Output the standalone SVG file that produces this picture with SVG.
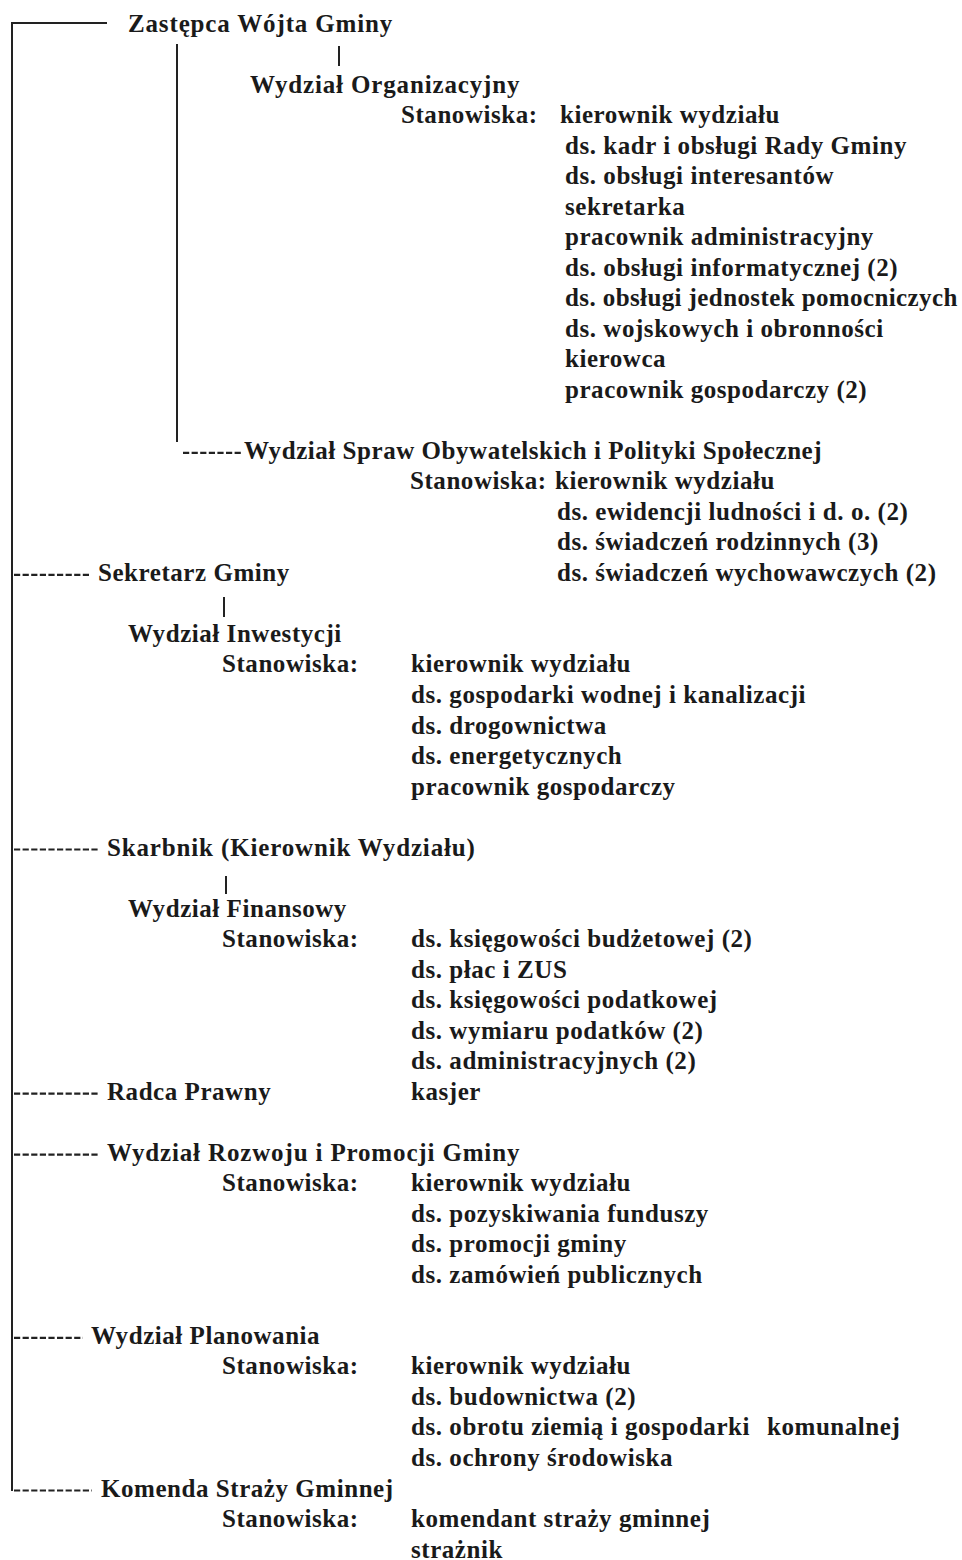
<svg xmlns="http://www.w3.org/2000/svg" width="962" height="1560" viewBox="0 0 962 1560">
<style>
text{font-family:"Liberation Serif","Times New Roman",serif;font-weight:bold;font-size:25px;letter-spacing:0.55px;fill:#1a1a1a}
.hd{letter-spacing:0.85px}
.tight{letter-spacing:0.4px}
.ln{stroke:#222;stroke-width:2;fill:none}
.dash{stroke:#222;stroke-width:2.2;fill:none;stroke-dasharray:6.2 2.4}
</style>
<rect width="962" height="1560" fill="#fff"/>
<g id="connectors">
<path class="ln" d="M12 23H107M12 22V1491"/>
<path class="ln" d="M177 44V442"/>
<path class="ln" d="M339 46V66"/>
<path class="ln" d="M224 597V617"/>
<path class="ln" d="M226 876V894"/>
<path class="dash" d="M183 452.8H243"/>
<path class="dash" d="M14 574.9H91"/>
<path class="dash" d="M14 849.5H98"/>
<path class="dash" d="M14 1093.7H98"/>
<path class="dash" d="M14 1154.7H98"/>
<path class="dash" d="M14 1337.9H83"/>
<path class="dash" d="M14 1490.5H92"/>
</g>
<g id="zastepca"><text class="hd" x="128" y="31.5">Zastępca Wójta Gminy</text></g>
<g id="wydzial-organizacyjny">
<text class="hd" x="250" y="92.5">Wydział Organizacyjny</text>
<text x="401" y="123.1">Stanowiska:</text>
<text x="560" y="123.1">kierownik wydziału</text>
<text x="565" y="153.6">ds. kadr i obsługi Rady Gminy</text>
<text x="565" y="184.1">ds. obsługi interesantów</text>
<text x="565" y="214.6">sekretarka</text>
<text x="565" y="245.1">pracownik administracyjny</text>
<text x="565" y="275.7">ds. obsługi informatycznej (2)</text>
<text x="565" y="306.2" class="tight">ds. obsługi jednostek pomocniczych</text>
<text x="565" y="336.7">ds. wojskowych i obronności</text>
<text x="565" y="367.2">kierowca</text>
<text x="565" y="397.7">pracownik gospodarczy (2)</text>
</g>
<g id="wydzial-spraw-obywatelskich">
<text x="244" y="458.8">Wydział Spraw Obywatelskich i Polityki Społecznej</text>
<text x="410" y="489.3">Stanowiska:</text>
<text x="555" y="489.3">kierownik wydziału</text>
<text x="557" y="519.8">ds. ewidencji ludności i d. o. (2)</text>
<text x="557" y="550.3">ds. świadczeń rodzinnych (3)</text>
<text x="557" y="580.9">ds. świadczeń wychowawczych (2)</text>
</g>
<g id="sekretarz"><text x="98" y="580.9">Sekretarz Gminy</text></g>
<g id="wydzial-inwestycji">
<text x="128" y="641.9">Wydział Inwestycji</text>
<text x="222" y="672.4">Stanowiska:</text>
<text x="411" y="672.4">kierownik wydziału</text>
<text x="411" y="702.9">ds. gospodarki wodnej i kanalizacji</text>
<text x="411" y="733.5">ds. drogownictwa</text>
<text x="411" y="764.0">ds. energetycznych</text>
<text x="411" y="794.5">pracownik gospodarczy</text>
</g>
<g id="skarbnik"><text class="hd" x="107" y="855.5">Skarbnik (Kierownik Wydziału)</text></g>
<g id="wydzial-finansowy">
<text x="128" y="916.6">Wydział Finansowy</text>
<text x="222" y="947.1">Stanowiska:</text>
<text x="411" y="947.1">ds. księgowości budżetowej (2)</text>
<text x="411" y="977.6">ds. płac i ZUS</text>
<text x="411" y="1008.1">ds. księgowości podatkowej</text>
<text x="411" y="1038.7">ds. wymiaru podatków (2)</text>
<text x="411" y="1069.2">ds. administracyjnych (2)</text>
<text x="411" y="1099.7">kasjer</text>
</g>
<g id="radca-prawny"><text x="107" y="1099.7">Radca Prawny</text></g>
<g id="wydzial-rozwoju">
<text class="hd" x="107" y="1160.7">Wydział Rozwoju i Promocji Gminy</text>
<text x="222" y="1191.3">Stanowiska:</text>
<text x="411" y="1191.3">kierownik wydziału</text>
<text x="411" y="1221.8">ds. pozyskiwania funduszy</text>
<text x="411" y="1252.3">ds. promocji gminy</text>
<text x="411" y="1282.8">ds. zamówień publicznych</text>
</g>
<g id="wydzial-planowania">
<text x="91" y="1343.9">Wydział Planowania</text>
<text x="222" y="1374.4">Stanowiska:</text>
<text x="411" y="1374.4">kierownik wydziału</text>
<text x="411" y="1404.9">ds. budownictwa (2)</text>
<text x="411" y="1435.4">ds. obrotu ziemią i gospodarki <tspan x="767">komunalnej</tspan></text>
<text x="411" y="1465.9">ds. ochrony środowiska</text>
</g>
<g id="komenda-strazy">
<text x="101" y="1496.5">Komenda Straży Gminnej</text>
<text x="222" y="1527.0">Stanowiska:</text>
<text x="411" y="1527.0">komendant straży gminnej</text>
<text x="411" y="1557.5">strażnik</text>
</g>
</svg>
